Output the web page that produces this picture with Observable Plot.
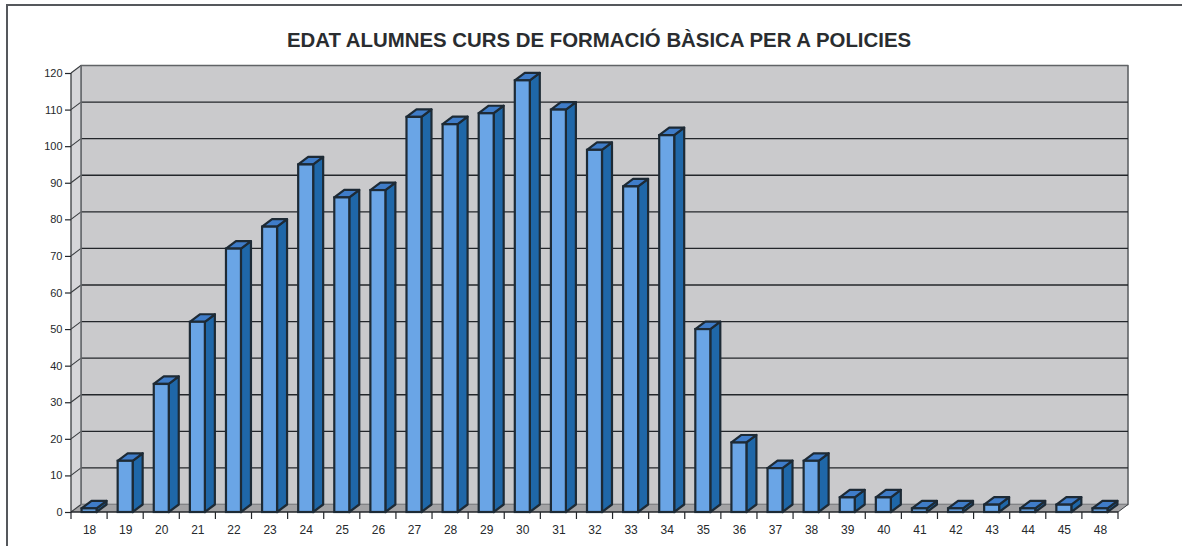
<!DOCTYPE html>
<html><head><meta charset="utf-8">
<script src="https://cdn.jsdelivr.net/npm/d3@7"></script>
<script src="https://cdn.jsdelivr.net/npm/@observablehq/plot@0.6"></script>
<style>
html,body{margin:0;padding:0;background:#fff;overflow:hidden}
#frame{position:absolute;left:6px;top:4px;width:1176px;height:542px;border-left:2px solid #55585c;border-top:2px solid #55585c;box-sizing:border-box}
#title{position:absolute;left:0;top:27px;width:1198px;text-align:center;font:bold 20.4px "Liberation Sans",Arial,sans-serif;color:#2a2d30;line-height:26px}
#chart{position:absolute;left:0;top:56px}
svg text{fill:#26292c}
</style></head><body>
<div id="frame"></div>
<div id="title">EDAT ALUMNES CURS DE FORMACIÓ BÀSICA PER A POLICIES</div>
<div id="chart"></div>
<script>
const ages = ["18","19","20","21","22","23","24","25","26","27","28","29","30","31","32","33","34","35","36","37","38","39","40","41","42","43","44","45","48"];
const counts = [1,14,35,52,72,78,95,86,88,108,106,109,118,110,99,89,103,50,19,12,14,4,4,1,1,2,1,2,1];
const yTicks = [0,10,20,30,40,50,60,70,80,90,100,110,120];
const rows = ages.map((age,i)=>({age,count:counts[i]}));
const DX=10, DY=7.5, INK="#1d2a35";

function polyGroup(parent, pts, fill, stroke, sw){
  const p=document.createElementNS("http://www.w3.org/2000/svg","polygon");
  p.setAttribute("points",pts.map(d=>d.join(",")).join(" "));
  p.setAttribute("fill",fill);
  if(stroke){p.setAttribute("stroke",stroke);p.setAttribute("stroke-width",sw||1);p.setAttribute("stroke-linejoin","round");}
  parent.appendChild(p);
}
function lineTo(parent,x1,y1,x2,y2,stroke,sw){
  const l=document.createElementNS("http://www.w3.org/2000/svg","line");
  l.setAttribute("x1",x1);l.setAttribute("y1",y1);l.setAttribute("x2",x2);l.setAttribute("y2",y2);
  l.setAttribute("stroke",stroke);l.setAttribute("stroke-width",sw||1);
  parent.appendChild(l);
}
function walls(index,{x,y},channels,dim){
  const g=document.createElementNS("http://www.w3.org/2000/svg","g");
  const L=dim.marginLeft,R=dim.width-dim.marginRight,B=y(0),T=y(120);
  polyGroup(g,[[L+DX,T-DY],[R+DX,T-DY],[R+DX,B-DY],[L+DX,B-DY]],"#cacacc","#606366",1.6);
  polyGroup(g,[[L,T],[L+DX,T-DY],[L+DX,B-DY],[L,B]],"#d6d6d9");
  polyGroup(g,[[L,B],[L+DX,B-DY],[R+DX,B-DY],[R,B]],"#a3a3a5");
  lineTo(g,R,B,R+DX,B-DY,"#3a3d40",1);
  for(const v of yTicks){
    const yy=y(v);
    if(v>0&&v<120) lineTo(g,L+DX,yy-DY,R+DX,yy-DY,"#23262a",1.3);
    lineTo(g,L,yy,L+DX,yy-DY,"#3a3d40",1.1);
  }
  lineTo(g,L,T,L,B,"#3a3d40",1.3);
  lineTo(g,L,B,R,B,"#23262a",1.5);
  lineTo(g,L+DX,T-DY,L+DX,B-DY,"#6a6d70",1.6);
  const step=(R-L)/ages.length, bw=x.bandwidth();
  lineTo(g,L,B,L,B+7,"#23262a",1.2);
  for(const a of ages){
    const e=x(a)+bw+(step-bw)/2;
    lineTo(g,e,B,e,B+7,"#23262a",1.2);
  }
  return g;
}
function sides(index,{x,y}){
  const g=document.createElementNS("http://www.w3.org/2000/svg","g");
  const bw=x.bandwidth();
  for(const d of rows){
    const l=x(d.age),r=l+bw,t=y(d.count),b=y(0);
    polyGroup(g,[[r,t],[r+DX,t-DY],[r+DX,b-DY],[r,b]],"#1f67a8",INK,2.2);
    polyGroup(g,[[l,t],[l+DX,t-DY],[r+DX,t-DY],[r,t]],"#3f7cc8",INK,2.2);
  }
  return g;
}
const plot = Plot.plot({
  width:1182, height:490,
  marginTop:17, marginBottom:34, marginLeft:71, marginRight:64,
  style:{fontFamily:'"Liberation Sans",Arial,sans-serif',fontSize:"11px",background:"transparent",overflow:"visible"},
  x:{domain:ages,type:"band",paddingInner:0.585,paddingOuter:0.2925,round:false,label:null},
  y:{domain:[0,120],label:null},
  marks:[
    walls,
    sides,
    Plot.barY(rows,{x:"age",y:"count",fill:"#6aa5e6",stroke:INK,strokeWidth:2.2}),
    Plot.axisY({ticks:yTicks,tickSize:6,tickPadding:3,label:null,stroke:"#23262a",strokeWidth:1.2}),
    Plot.axisX({tickSize:0,tickPadding:13,label:null,fontSize:12})
  ]
});
document.getElementById("chart").appendChild(plot);
</script></body></html>
